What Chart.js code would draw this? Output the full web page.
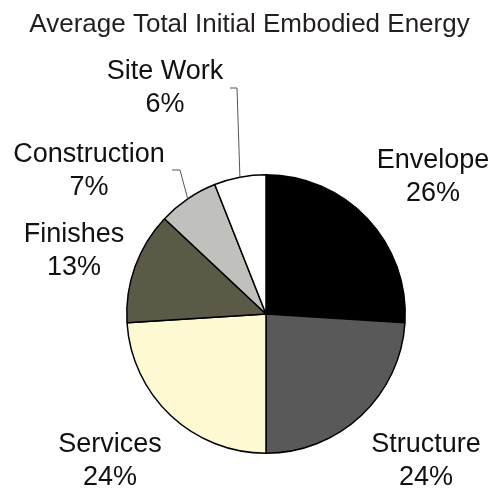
<!DOCTYPE html>
<html>
<head>
<meta charset="utf-8">
<script src="https://cdn.jsdelivr.net/npm/chart.js@4"></script>
<style>
    body { margin: 0; background: #FFFFFF; }
    #wrap { width: 493px; height: 489px; }
</style>
</head>
<body>
<div id="wrap"><canvas id="pie-chart" width="493" height="489"></canvas></div>
<script>
"use strict";

// chart data
const chartTitle = 'Average Total Initial Embodied Energy';
const categories = ['Envelope', 'Structure', 'Services', 'Finishes', 'Construction', 'Site Work'];
const shares = [26, 24, 24, 13, 7, 6];

// slice fills, same order as categories
const sliceColors = ['#000000', '#595959', '#FCF9D3', '#5B5A47', '#C0C0BD', '#FFFFFF'];

// where each label sits (centre x, baseline of first line), plus leader elbows
const labelSpots = [
    {x: 433, y: 168},
    {x: 426, y: 452},
    {x: 110, y: 452},
    {x: 74, y: 242},
    {x: 89, y: 162, leader: [[172, 170], [180, 170]]},
    {x: 165, y: 79, leader: [[230, 88], [237, 88]]}
];

// draws title, category labels and leader lines
const pieLabels = {
    id: 'pieLabels',
    afterDraw(chart) {
        const ctx = chart.ctx;
        const arcs = chart.getDatasetMeta(0).data;
        ctx.save();

        ctx.fillStyle = '#231F20';
        ctx.font = '26px "Liberation Sans", Arial, sans-serif';
        ctx.textAlign = 'center';
        ctx.textBaseline = 'alphabetic';
        ctx.fillText(chartTitle, 249.5, 32);

        ctx.font = '27px "Liberation Sans", Arial, sans-serif';
        ctx.fillStyle = '#111111';
        labelSpots.forEach((spot, i) => {
            ctx.fillText(categories[i], spot.x, spot.y);
            ctx.fillText(shares[i] + '%', spot.x, spot.y + 33);

            if (spot.leader) {
                // end on the slice edge at its middle angle
                const arc = arcs[i];
                const mid = (arc.startAngle + arc.endAngle) / 2;
                const ex = arc.x + Math.cos(mid) * arc.outerRadius;
                const ey = arc.y + Math.sin(mid) * arc.outerRadius;
                ctx.strokeStyle = '#555555';
                ctx.lineWidth = 1;
                ctx.beginPath();
                ctx.moveTo(spot.leader[0][0], spot.leader[0][1]);
                ctx.lineTo(spot.leader[1][0], spot.leader[1][1]);
                ctx.lineTo(ex, ey);
                ctx.stroke();
            }
        });
        ctx.restore();
    }
};

const ctx = document.getElementById('pie-chart').getContext('2d');

new Chart(ctx, {
    type: 'pie',
    data: {
        labels: categories,
        datasets: [{
            data: shares,
            backgroundColor: sliceColors,
            borderColor: '#000000',
            borderWidth: 1.5
        }]
    },
    options: {
        responsive: false,
        animation: false,
        events: [],
        layout: {
            padding: {left: 126, right: 87, top: 174, bottom: 35}
        },
        plugins: {
            legend: {display: false},
            title: {display: false},
            tooltip: {enabled: false}
        }
    },
    plugins: [pieLabels]
});
</script>
</body>
</html>
